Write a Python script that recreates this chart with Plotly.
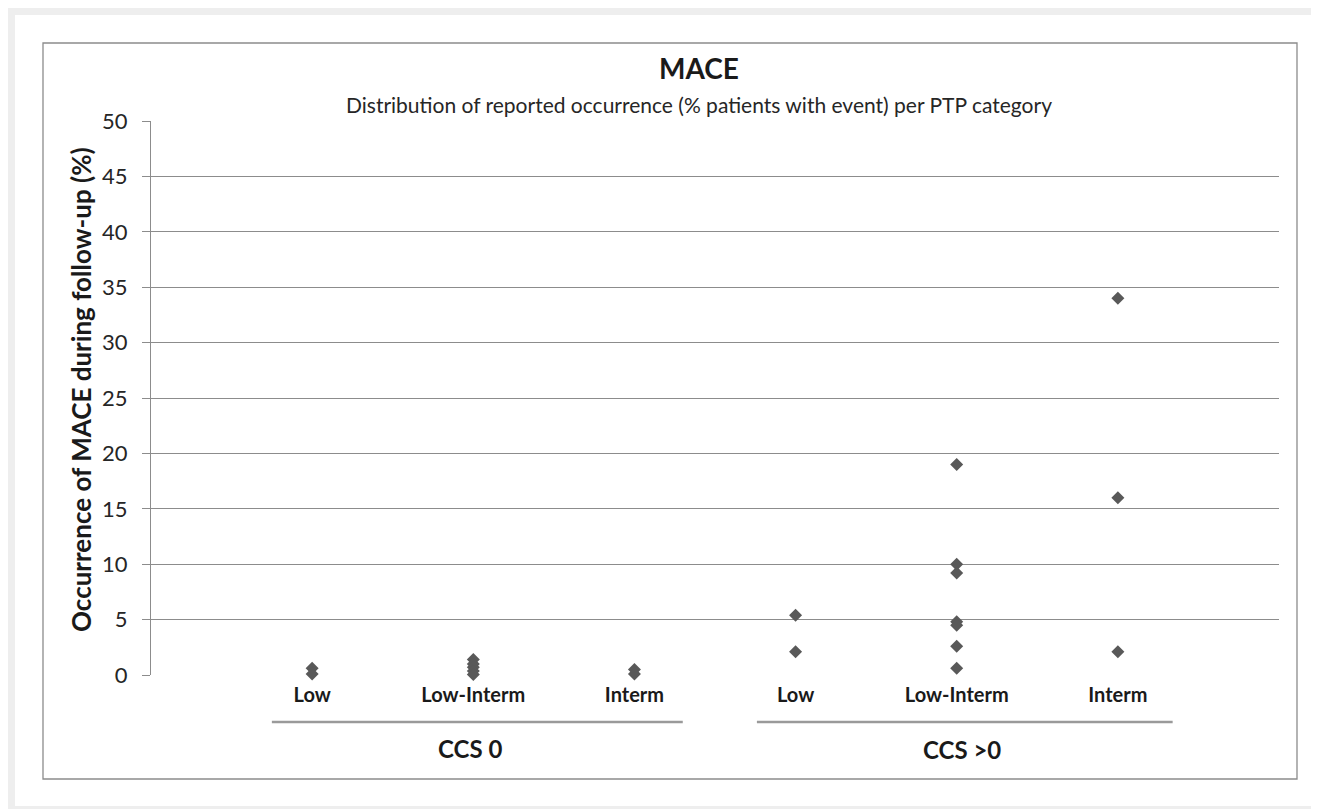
import plotly.graph_objects as go

# ---- data ----
groups = ["CCS 0", "CCS >0"]
categories = ["Low", "Low-Interm", "Interm", "Low", "Low-Interm", "Interm"]
cat_pos = [1, 2, 3, 4, 5, 6]
ccs0_low = [0.6, 0.1]
ccs0_lowint = [1.4, 1.0, 0.7, 0.35, 0.05]
ccs0_int = [0.5, 0.1]
ccs1_low = [5.4, 2.1]
ccs1_lowint = [19.0, 10.0, 9.2, 4.8, 4.5, 2.6, 0.6]
ccs1_int = [34.0, 16.0, 2.1]
series = [ccs0_low, ccs0_lowint, ccs0_int, ccs1_low, ccs1_lowint, ccs1_int]
y_ticks = list(range(0, 51, 5))

W, H = 1319, 809
OFF = 8  # page body margin
SX0, SX1, SY0, SY1 = 151, 1279, 121, 675
L = SX0 - OFF
T = SY0 - OFF
R = W - (SX1 - OFF)
B = H - (SY1 - OFF)
PW, PH = SX1 - SX0, SY1 - SY0

def px(x):
    return (x - SX0) / PW

def py(y):
    return (SY1 - y) / PH

xs, ys = [], []
for p, vals in zip(cat_pos, series):
    xs += [p] * len(vals)
    ys += vals

fig = go.Figure()
fig.add_trace(go.Scatter(
    x=xs, y=ys, mode="markers",
    marker=dict(symbol="diamond", size=10, color="#595959"),
    showlegend=False, cliponaxis=False))

FONT = "Lato, Carlito, Calibri, sans-serif"

shapes = [
    dict(type="rect", xref="paper", yref="paper", x0=px(0), x1=px(1340), y0=py(830), y1=py(0),
         fillcolor="#eeeeee", line=dict(width=0), layer="below"),
    dict(type="rect", xref="paper", yref="paper", x0=px(15), x1=px(1340), y0=py(806), y1=py(15),
         fillcolor="white", line=dict(width=0), layer="below"),
    dict(type="rect", xref="paper", yref="paper", x0=px(43), x1=px(1297), y0=py(779), y1=py(43),
         fillcolor="rgba(0,0,0,0)", line=dict(color="#8c8c8c", width=1.3), layer="below"),
    dict(type="line", xref="x", yref="paper", x0=0.75, x1=3.3, y0=py(722), y1=py(722),
         line=dict(color="#9a9a9a", width=2.5)),
    dict(type="line", xref="x", yref="paper", x0=3.76, x1=6.34, y0=py(722), y1=py(722),
         line=dict(color="#9a9a9a", width=2.5)),
]

annotations = [
    dict(text="<b>MACE</b>", xref="paper", yref="paper", x=px(699), y=py(68),
         showarrow=False, font=dict(family=FONT, size=28, color="#1a1a1a"), xanchor="center", yanchor="middle"),
    dict(text="Distribution of reported occurrence (% patients with event) per PTP category",
         xref="paper", yref="paper", x=px(699), y=py(104), showarrow=False,
         font=dict(family=FONT, size=21, color="#262626"), xanchor="center", yanchor="middle"),
    dict(text="<b>Occurrence of MACE during follow-up (%)</b>", xref="paper", yref="paper",
         x=px(81), y=py(390), textangle=-90, showarrow=False,
         font=dict(family=FONT, size=26, color="#1a1a1a"), xanchor="center", yanchor="middle"),
    dict(text="<b>%s</b>" % groups[0], xref="x", yref="paper", x=1.98, y=py(748), showarrow=False,
         font=dict(family=FONT, size=24, color="#1a1a1a"), xanchor="center", yanchor="middle"),
    dict(text="<b>%s</b>" % groups[1], xref="x", yref="paper", x=5.03, y=py(749), showarrow=False,
         font=dict(family=FONT, size=24, color="#1a1a1a"), xanchor="center", yanchor="middle"),
]

fig.update_layout(
    width=W, height=H,
    margin=dict(l=L, r=R, t=T, b=B, pad=0),
    paper_bgcolor="white", plot_bgcolor="rgba(0,0,0,0)",
    shapes=shapes, annotations=annotations,
    font=dict(family=FONT, color="#1a1a1a"),
    xaxis=dict(range=[0, 7], tickvals=cat_pos, ticktext=["<b>%s</b>" % c for c in categories],
               showgrid=False, zeroline=False, showline=False, ticks="",
               tickfont=dict(family=FONT, size=20, color="#1a1a1a"), ticklabelstandoff=6, fixedrange=True),
    yaxis=dict(range=[0, 50], tickvals=y_ticks, showgrid=True, gridcolor="#8c8c8c", gridwidth=1.3,
               zeroline=False, showline=True, linecolor="#8c8c8c", linewidth=1.3,
               ticks="outside", ticklen=8, tickcolor="#8c8c8c", tickwidth=1.3,
               tickfont=dict(family=FONT, size=22, color="#262626"), ticklabelstandoff=10, fixedrange=True),
)

fig.write_html("out.html")
